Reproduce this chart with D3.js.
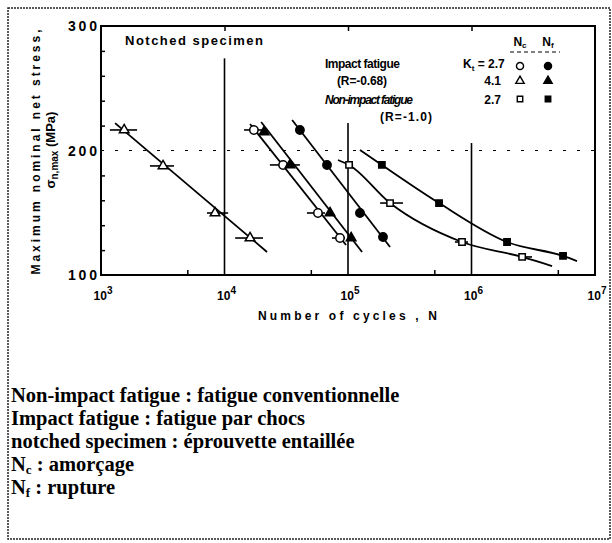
<!DOCTYPE html>
<html>
<head>
<meta charset="utf-8">
<script src="https://cdn.jsdelivr.net/npm/d3@7"></script>
<style>
body { margin: 0; background: #fff; }
svg { display: block; }
</style>
</head>
<body>
<svg id="chart"></svg>
<script>
// DATA

// impact fatigue, Kt = 4.1, crack initiation Nc (open triangles)
const imp41NcN = [1540, 3180, 8380, 16100];
const imp41NcS = [216.5, 187.6, 149.8, 129.7];
const imp41NcLo = [1180, 2490, 7210, 12200];
const imp41NcHi = [1960, 3900, 10700, 20500];
const imp41NcFit = [[1300, 222], [22100, 118.5]];

// impact fatigue, Kt = 2.7, crack initiation Nc (open circles)
const imp27NcN = [17300, 29800, 57100, 86100];
const imp27NcS = [216.5, 188.4, 149.8, 129.7];
const imp27NcLo = [14400, 23300, 46500, 74100];
const imp27NcHi = [20100, 40800, 65100, 94600];
const imp27NcFit = [[16100, 221.3], [96400, 124.1]];

// impact fatigue, Kt = 4.1, rupture Nf (filled triangles)
const imp41NfN = [20900, 33900, 71500, 106000];
const imp41NfS = [214.9, 188.4, 149.8, 129.7];
const imp41NfFit = [[19800, 222.9], [130000, 118.5]];

// impact fatigue, Kt = 2.7, rupture Nf (filled circles)
const imp27NfN = [40800, 67600, 125000, 192000];
const imp27NfS = [216.5, 188.4, 149.8, 130.5];
const imp27NfFit = [[35300, 224.5], [219000, 122.5]];

// non-impact fatigue, Kt = 2.7, Nc (open squares)
const non27NcN = [102000, 219000, 838000, 2570000];
const non27NcS = [188.4, 157.8, 126.5, 114.5];
const non27NcLo = [94600, 182000, 734000, 2380000];
const non27NcHi = [110000, 279000, 937000, 3090000];
const non27NcFit = [[82900, 192.4], [102000, 188.4], [219000, 157.8], [838000, 126.5], [2570000, 114.5], [4490000, 107.2]];

// non-impact fatigue, Kt = 2.7, Nf (filled squares)
const non27NfN = [188000, 546000, 1940000, 5510000];
const non27NfS = [188.4, 157.8, 126.5, 115.3];
const non27NfFit = [[125000, 200.4], [188000, 188.4], [546000, 157.8], [1940000, 126.5], [5510000, 115.3], [7150000, 111.2]];

// axes
const xDecades = [1e3, 1e4, 1e5, 1e6, 1e7];
const xMinorTicks = [5e3, 5e4, 5e5, 5e6];
const yMinorTicks = [120, 140, 160, 180, 220, 240, 260, 280];
const yLabels = [100, 200, 300];
const gridN = [1e4, 1e5, 1e6];
const gridTopS = [274, 222, 206];

const notes = [
    ['Non-impact fatigue : fatigue conventionnelle'],
    ['Impact fatigue : fatigue par chocs'],
    ['notched specimen : éprouvette entaillée'],
    ['N', 'c', ' : amorçage'],
    ['N', 'f', ' : rupture']
];

// SET UP

const width = 612;
const height = 543;
const plotLeft = 101, plotRight = 595, plotTop = 26, plotBottom = 275;
const sansFont = '"Liberation Sans", Arial, sans-serif';
const serifFont = '"Liberation Serif", "Times New Roman", serif';

const svg = d3.select('#chart')
    .attr('width', width)
    .attr('height', height);

const xScale = d3.scaleLog().domain([1e3, 1e7]).range([plotLeft, plotRight]);
const yScale = d3.scaleLinear().domain([100, 300]).range([plotBottom, plotTop]);

// outer dotted frame of the figure
svg.append('rect')
    .attr('x', 8).attr('y', 8)
    .attr('width', 602).attr('height', 531)
    .attr('fill', 'none')
    .attr('stroke', '#222')
    .attr('stroke-width', 1.5)
    .attr('stroke-dasharray', '2,1');

// GRID LINES

svg.selectAll('.vgrid')
    .data(gridN)
    .enter().append('line')
    .attr('class', 'vgrid')
    .attr('x1', d => xScale(d)).attr('x2', d => xScale(d))
    .attr('y1', (d, i) => yScale(gridTopS[i]))
    .attr('y2', plotBottom)
    .attr('stroke', '#000')
    .attr('stroke-width', 1.6);

svg.append('line')
    .attr('x1', plotLeft).attr('x2', plotRight)
    .attr('y1', yScale(200)).attr('y2', yScale(200))
    .attr('stroke', '#000')
    .attr('stroke-width', 1.2)
    .attr('stroke-dasharray', '3,11');

// AXES

const tickStyle = function(g) {
    g.select('.domain').remove();
    g.selectAll('.tick line').attr('stroke', '#000').attr('stroke-width', 1.5);
};

svg.append('g')
    .attr('transform', `translate(0,${plotBottom})`)
    .call(d3.axisBottom(xScale).tickValues(xMinorTicks).tickSize(-5).tickFormat(''))
    .call(tickStyle);

svg.append('g')
    .attr('transform', `translate(0,${plotTop})`)
    .call(d3.axisTop(xScale).tickValues(gridN).tickSize(-5).tickFormat(''))
    .call(tickStyle);

svg.append('g')
    .attr('transform', `translate(${plotLeft},0)`)
    .call(d3.axisLeft(yScale).tickValues(yMinorTicks).tickSize(-4).tickFormat(''))
    .call(tickStyle);

svg.append('rect')
    .attr('x', plotLeft).attr('y', plotTop)
    .attr('width', plotRight - plotLeft)
    .attr('height', plotBottom - plotTop)
    .attr('fill', 'none')
    .attr('stroke', '#000')
    .attr('stroke-width', 2);

// x tick labels 10^n
const xLab = svg.selectAll('.xlab')
    .data(xDecades)
    .enter().append('text')
    .attr('class', 'xlab')
    .attr('x', d => xScale(d) + 2)
    .attr('y', 300)
    .attr('text-anchor', 'middle')
    .attr('font-family', sansFont)
    .attr('font-weight', 'bold')
    .attr('font-size', 12);
xLab.append('tspan').text('10');
xLab.append('tspan').attr('dy', -6).attr('font-size', 10).text(d => Math.round(Math.log10(d)));

svg.selectAll('.ylab')
    .data(yLabels)
    .enter().append('text')
    .attr('class', 'ylab')
    .attr('x', 97)
    .attr('y', d => yScale(d) + 5)
    .attr('text-anchor', 'end')
    .attr('font-family', sansFont)
    .attr('font-weight', 'bold')
    .attr('font-size', 14)
    .attr('textLength', 29)
    .text(d => d);

svg.append('text')
    .attr('x', 258).attr('y', 320)
    .attr('font-family', sansFont)
    .attr('font-weight', 'bold')
    .attr('font-size', 12)
    .attr('textLength', 179)
    .text('Number of cycles , N');

svg.append('text')
    .attr('transform', 'translate(40,152) rotate(-90)')
    .attr('text-anchor', 'middle')
    .attr('font-family', sansFont)
    .attr('font-weight', 'bold')
    .attr('font-size', 12)
    .attr('textLength', 245)
    .text('Maximum nominal net stress,');

const sigLab = svg.append('text')
    .attr('transform', 'translate(55,150) rotate(-90)')
    .attr('text-anchor', 'middle')
    .attr('font-family', sansFont)
    .attr('font-weight', 'bold')
    .attr('font-size', 13);
sigLab.append('tspan').text('σ');
sigLab.append('tspan').attr('dy', 3).attr('font-size', 10).text('n,max');
sigLab.append('tspan').attr('dy', -3).text(' (MPa)');

svg.append('text')
    .attr('x', 125).attr('y', 45)
    .attr('font-family', sansFont)
    .attr('font-weight', 'bold')
    .attr('font-size', 13)
    .attr('textLength', 138)
    .text('Notched specimen');

// FIT LINES

const fitLine = d3.line()
    .x(d => xScale(d[0]))
    .y(d => yScale(d[1]))
    .curve(d3.curveMonotoneX);

[imp41NcFit, imp27NcFit, imp41NfFit, imp27NfFit, non27NcFit, non27NfFit].forEach(function(fit) {
    svg.append('path')
        .attr('d', fitLine(fit))
        .attr('fill', 'none')
        .attr('stroke', '#000')
        .attr('stroke-width', 1.8);
});

// SCATTER BANDS (horizontal bars)

function drawBars(lo, hi, s) {
    svg.append('g').selectAll('line')
        .data(s)
        .enter().append('line')
        .attr('x1', (d, i) => xScale(lo[i]))
        .attr('x2', (d, i) => xScale(hi[i]))
        .attr('y1', d => yScale(d))
        .attr('y2', d => yScale(d))
        .attr('stroke', '#000')
        .attr('stroke-width', 1.6);
}
drawBars(imp41NcLo, imp41NcHi, imp41NcS);
drawBars(imp27NcLo, imp27NcHi, imp27NcS);
drawBars(non27NcLo, non27NcHi, non27NcS);

// MARKERS

function drawPoints(nVals, sVals, type, size, filled) {
    const sym = d3.symbol().type(type).size(size);
    svg.append('g').selectAll('path')
        .data(nVals)
        .enter().append('path')
        .attr('transform', (d, i) => `translate(${xScale(d)},${yScale(sVals[i])})`)
        .attr('d', sym)
        .attr('fill', filled ? '#000' : '#fff')
        .attr('stroke', '#000')
        .attr('stroke-width', 1.5);
}
drawPoints(imp41NcN, imp41NcS, d3.symbolTriangle, 40, false);
drawPoints(imp27NcN, imp27NcS, d3.symbolCircle, 55, false);
drawPoints(imp41NfN, imp41NfS, d3.symbolTriangle, 40, true);
drawPoints(imp27NfN, imp27NfS, d3.symbolCircle, 55, true);
drawPoints(non27NcN, non27NcS, d3.symbolSquare, 40, false);
drawPoints(non27NfN, non27NfS, d3.symbolSquare, 40, true);

// LEGEND

const legText = function(x, y, str, len, italic) {
    return svg.append('text')
        .attr('x', x).attr('y', y)
        .attr('font-family', sansFont)
        .attr('font-weight', 'bold')
        .attr('font-style', italic ? 'italic' : 'normal')
        .attr('font-size', 12)
        .attr('textLength', len)
        .text(str);
};
legText(325, 68, 'Impact fatigue', 75, false);
legText(337, 85, '(R=-0.68)', 50, false);
legText(325, 104, 'Non-impact fatigue', 88, true);
legText(380, 121, '(R=-1.0)', 52, false);

const ktLab = svg.append('text')
    .attr('x', 463).attr('y', 68)
    .attr('font-family', sansFont)
    .attr('font-weight', 'bold')
    .attr('font-size', 12);
ktLab.append('tspan').text('K');
ktLab.append('tspan').attr('dy', 3).attr('font-size', 8).text('t');
ktLab.append('tspan').attr('dy', -3).text(' = 2.7');

svg.selectAll('.ktval')
    .data([['4.1', 85], ['2.7', 104]])
    .enter().append('text')
    .attr('x', 501).attr('y', d => d[1])
    .attr('text-anchor', 'end')
    .attr('font-family', sansFont)
    .attr('font-weight', 'bold')
    .attr('font-size', 12)
    .text(d => d[0]);

const headers = svg.selectAll('.nhead')
    .data([[520, 'c'], [548, 'f']])
    .enter().append('text')
    .attr('x', d => d[0]).attr('y', 46)
    .attr('text-anchor', 'middle')
    .attr('font-family', sansFont)
    .attr('font-weight', 'bold')
    .attr('font-size', 12);
headers.append('tspan').text('N');
headers.append('tspan').attr('dy', 2).attr('font-size', 8).text(d => d[1]);

svg.append('line')
    .attr('x1', 510).attr('x2', 560)
    .attr('y1', 52).attr('y2', 52)
    .attr('stroke', '#000')
    .attr('stroke-dasharray', '4,3');

const legRows = [
    [d3.symbolCircle, 66, 40],
    [d3.symbolTriangle, 81, 30],
    [d3.symbolSquare, 99, 30]
];
legRows.forEach(function(row) {
    [false, true].forEach(function(filled, j) {
        svg.append('path')
            .attr('transform', `translate(${520 + j * 28},${row[1]})`)
            .attr('d', d3.symbol().type(row[0]).size(row[2]))
            .attr('fill', filled ? '#000' : '#fff')
            .attr('stroke', '#000')
            .attr('stroke-width', 1.4);
    });
});

// FOOTNOTE TRANSLATIONS

notes.forEach(function(line, i) {
    const t = svg.append('text')
        .attr('x', 11)
        .attr('y', 402 + i * 23)
        .attr('font-family', serifFont)
        .attr('font-weight', 'bold')
        .attr('font-size', 20.5);
    t.append('tspan').text(line[0]);
    if (line.length === 3) {
        t.append('tspan').attr('dy', 3).attr('font-size', 13).text(line[1]);
        t.append('tspan').attr('dy', -3).text(line[2]);
    }
});
</script>
</body>
</html>
